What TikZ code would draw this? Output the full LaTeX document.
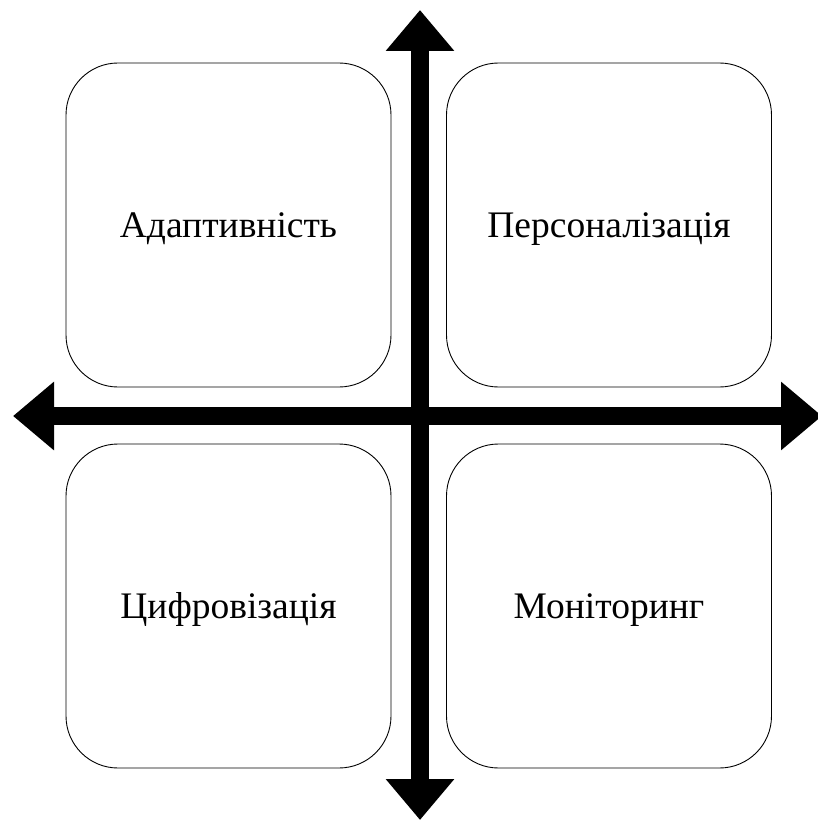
\documentclass[tikz,border=0pt]{standalone}
\usepackage{fontspec}
\setmainfont{Liberation Serif}
\usetikzlibrary{arrows.meta}
\tikzset{
  card/.style={draw=black, line width=0.9pt, rounded corners=52pt, minimum width=325pt, minimum height=324pt, inner sep=0pt, text height=25pt, text depth=0pt, font=\fontsize{37.5}{44}\selectfont},
  axis/.style={line width=18pt, {Triangle[length=41pt,width=66pt]}-{Triangle[length=41pt,width=66pt]}}
}
\begin{document}
\begin{tikzpicture}[x=1pt,y=-1pt]
\useasboundingbox (0,0) rectangle (818,821);
\node[card] (adapt) at (228.5,225) {Адаптивність};
\node[card] (pers) at (609,225) {Персоналізація};
\node[card] (cyfr) at (228.5,606) {Цифровізація};
\node[card] (mon) at (609,606) {Моніторинг};
\coordinate (top) at (420,10);
\coordinate (bottom) at (420,820);
\coordinate (left) at (13,416);
\coordinate (right) at (822,416);
\draw[axis] (top) -- (bottom);
\draw[axis] (left) -- (right);
\end{tikzpicture}
\end{document}
